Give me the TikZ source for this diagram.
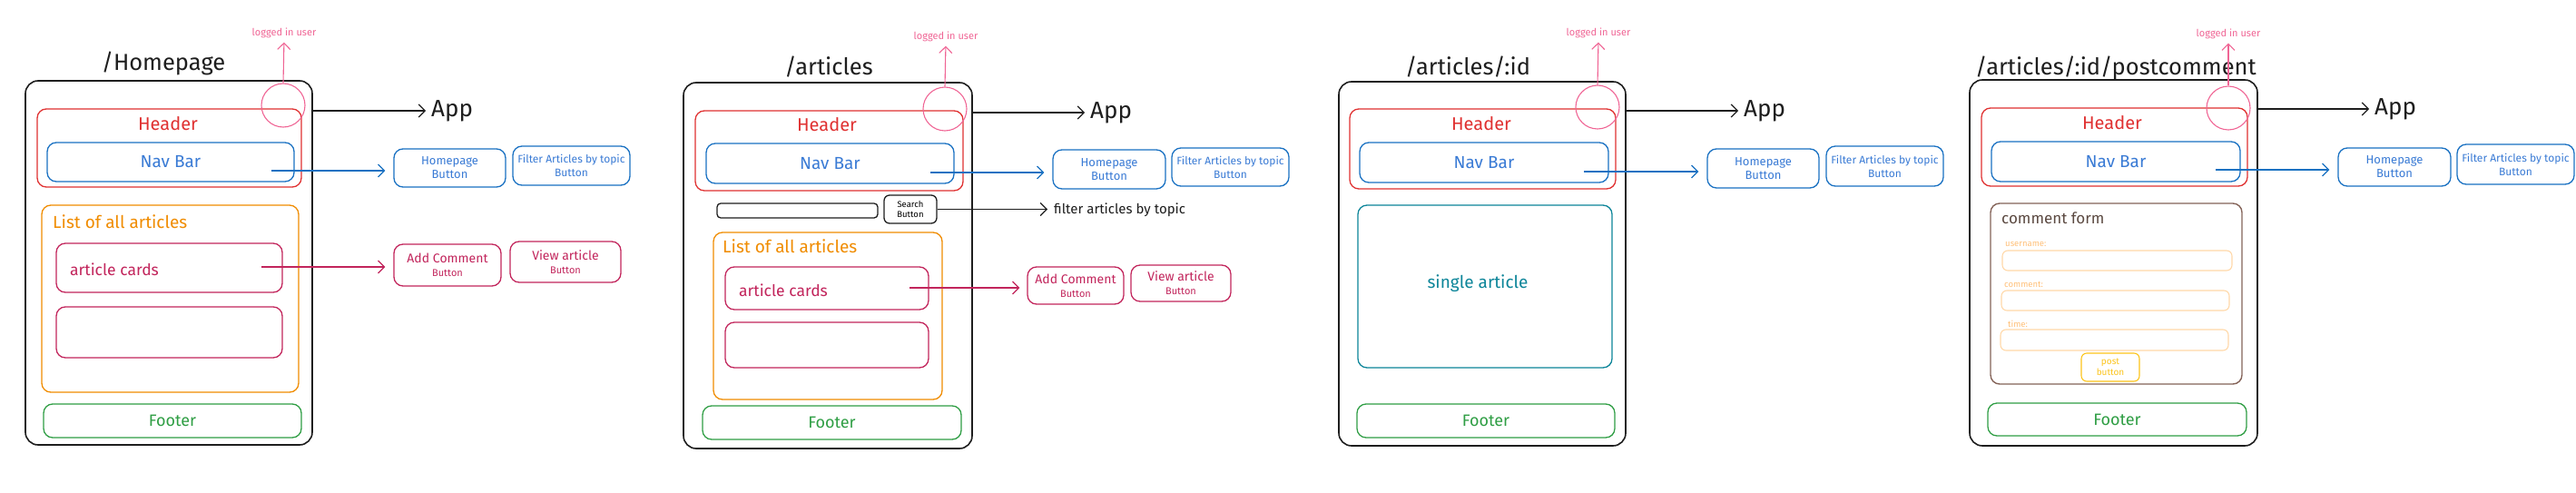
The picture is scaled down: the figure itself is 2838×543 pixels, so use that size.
\documentclass[tikz,border=0pt]{standalone}
\usepackage{fontspec}
\setmainfont{Fira Sans}
\usetikzlibrary{arrows.meta,calc}
\definecolor{ink}{HTML}{1E1E1E}
\definecolor{cred}{HTML}{E03131}
\definecolor{cblue}{HTML}{1971C2}
\definecolor{cbluet}{HTML}{3A7BD5}
\definecolor{corange}{HTML}{F08C00}
\definecolor{cgreen}{HTML}{2F9E44}
\definecolor{ccrim}{HTML}{C2255C}
\definecolor{cpink}{HTML}{F06595}
\definecolor{cteal}{HTML}{0C8599}
\definecolor{cbrown}{HTML}{846358}
\definecolor{cbrownt}{HTML}{5C4A42}
\definecolor{cfield}{HTML}{FFD8A8}
\definecolor{cfieldt}{HTML}{FFC078}
\definecolor{cyell}{HTML}{FCC419}
\newcommand\fsz[1]{\fontsize{#1}{\fpeval{1.2*#1}}\selectfont}
\tikzset{
  bx/.style={draw, rounded corners=10pt, line width=1.3pt, inner sep=0pt},
  outerbx/.style={bx, draw=ink, line width=1.6pt, rounded corners=14pt},
  hdrbx/.style={bx, draw=cred},
  navbx/.style={bx, draw=cblue, text=cbluet, font=\fsz{19}},
  listbx/.style={bx, draw=corange},
  cardbx/.style={bx, draw=ccrim},
  footbx/.style={bx, draw=cgreen, text=cgreen, font=\fsz{18}},
  tealbx/.style={bx, draw=cteal},
  formbx/.style={bx, draw=cbrown, line width=1.4pt},
  fieldbx/.style={bx, draw=cfield, line width=1.1pt, rounded corners=6pt},
  postbtn/.style={bx, draw=cyell, text=cyell, line width=1.1pt, rounded corners=6pt, align=center, font=\fontsize{10}{12}\selectfont},
  inbx/.style={bx, draw=ink, rounded corners=4pt},
  srchbtn/.style={bx, draw=ink, rounded corners=6pt, align=center, font=\fontsize{9.5}{11.5}\selectfont},
  bluebtn/.style={bx, draw=cblue, text=cbluet, align=center, font=\fontsize{13}{15}\selectfont},
  filtbtn/.style={bx, draw=cblue, text=cbluet, align=center, font=\fontsize{12}{15}\selectfont},
  crimbtn/.style={bx, draw=ccrim, text=ccrim, align=center, font=\fontsize{14}{15}\selectfont},
  circ/.style={draw=cpink, circle, line width=1.1pt, minimum size=48pt, inner sep=0pt},
  titletxt/.style={text=ink, font=\fsz{25.5}, inner sep=1pt},
  hdrtxt/.style={text=cred, font=\fsz{20}, inner sep=1pt},
  listtxt/.style={text=corange, font=\fsz{19}, inner sep=1pt, anchor=west},
  cardtxt/.style={text=ccrim, font=\fsz{17.5}, inner sep=1pt, anchor=west},
  apptxt/.style={text=ink, font=\fsz{26}, inner sep=1pt, anchor=west},
  lgtxt/.style={text=cpink, font=\fsz{11}, inner sep=1pt},
  filttxt/.style={text=ink, font=\fsz{15}, inner sep=1pt, anchor=west},
  singletxt/.style={text=cteal, font=\fsz{19}, inner sep=1pt},
  formtxt/.style={text=cbrownt, font=\fsz{17}, inner sep=1pt, anchor=west},
  fieldlbl/.style={text=cfieldt, font=\fsz{9.5}, inner sep=1pt, anchor=west},
  arr/.style={-{Straight Barb[length=7pt,width=14pt]}, line width=1.2pt},
  pinkarr/.style={arr, draw=cpink, line width=1.1pt, shorten >=4pt},
}
\newcommand\btnlines[2]{#1\\{\fontsize{11}{12}\selectfont #2}}
\begin{document}
\begin{tikzpicture}[x=1pt,y=-1pt]
\useasboundingbox (0,0) rectangle (2838,543);
\fill[white] (0,0) rectangle (2838,543);

% ================= Panel 1: /Homepage =================
\node[outerbx, minimum width=316pt, minimum height=401pt] (o1) at (186,289.5) {};
\node[titletxt] (t1) at (180,70) {/Homepage};
\node[hdrbx, minimum width=291pt, minimum height=86pt] (h1) at (186.5,163) {};
\node[hdrtxt] (ht1) at (185,136) {Header};
\node[navbx, minimum width=272pt, minimum height=43pt] (n1) at (188,178.5) {Nav Bar};
\node[circ] (c1) at (312,116) {};
\node[lgtxt] (l1) at (313,36) {logged in user};
\draw[pinkarr] (c1.north) -- (l1.south);
\node[apptxt] (a1) at (474,122) {App};
\draw[arr, draw=ink, shorten >=5pt] (a1.west -| o1.east) -- (a1.west);
\node[bluebtn, minimum width=123pt, minimum height=42pt] (hb1) at (495.5,185) {Homepage\\Button};
\node[filtbtn, minimum width=129pt, minimum height=43pt] (fb1) at (629.5,182.5) {Filter Articles by topic\\Button};
\coordinate (ns1) at (299,188);
\draw[arr, draw=cblue, shorten >=9pt] (ns1) -- (ns1 -| hb1.west);
\node[listbx, minimum width=283pt, minimum height=206pt] (L1) at (187.5,329) {};
\node[listtxt] (Lt1) at (57,244) {List of all articles};
\node[cardbx, minimum width=249pt, minimum height=54pt] (ac1) at (186.5,295) {};
\node[cardtxt] (act1) at (76,297) {article cards};
\node[cardbx, minimum width=249pt, minimum height=56pt] (ec1) at (186.5,366) {};
\node[crimbtn, minimum width=118pt, minimum height=46pt] (ad1) at (493,292) {\btnlines{Add Comment}{Button}};
\node[crimbtn, minimum width=122pt, minimum height=45pt] (va1) at (623,288.5) {\btnlines{View article}{Button}};
\coordinate (cs1) at (288,294);
\draw[arr, draw=ccrim, shorten >=9pt] (cs1) -- (cs1 -| ad1.west);
\node[footbx, minimum width=284pt, minimum height=37pt] (f1) at (190,463.5) {Footer};

% ================= Panel 2: /articles =================
\node[outerbx, minimum width=318pt, minimum height=403pt] (o2) at (912,292.5) {};
\node[titletxt] (t2) at (913,74) {/articles};
\node[hdrbx, minimum width=295pt, minimum height=88pt] (h2) at (913.5,166) {};
\node[hdrtxt] (ht2) at (911,137) {Header};
\node[navbx, minimum width=273pt, minimum height=44pt] (n2) at (914.5,180) {Nav Bar};
\node[circ] (c2) at (1041,120) {};
\node[lgtxt] (l2) at (1042,40) {logged in user};
\draw[pinkarr] (c2.north) -- (l2.south);
\node[apptxt] (a2) at (1200,124) {App};
\draw[arr, draw=ink, shorten >=5pt] (a2.west -| o2.east) -- (a2.west);
\node[bluebtn, minimum width=124pt, minimum height=43pt] (hb2) at (1222,186.5) {Homepage\\Button};
\node[filtbtn, minimum width=129pt, minimum height=42pt] (fb2) at (1355.5,184) {Filter Articles by topic\\Button};
\coordinate (ns2) at (1025,190);
\draw[arr, draw=cblue, shorten >=9pt] (ns2) -- (ns2 -| hb2.west);
\node[inbx, minimum width=177pt, minimum height=16pt] (si2) at (878.5,232) {};
\node[srchbtn, minimum width=58pt, minimum height=31pt] (sb2) at (1003,230.5) {Search\\Button};
\node[filttxt] (ft2) at (1160,231) {filter articles by topic};
\draw[arr, draw=ink, shorten >=6pt] (sb2.east) -- (sb2.east -| ft2.west);
\node[listbx, minimum width=252pt, minimum height=184pt] (L2) at (912,348) {};
\node[listtxt] (Lt2) at (795,271) {List of all articles};
\node[cardbx, minimum width=224pt, minimum height=47pt] (ac2) at (911,317.5) {};
\node[cardtxt] (act2) at (813,320) {article cards};
\node[cardbx, minimum width=224pt, minimum height=50pt] (ec2) at (911,380) {};
\node[crimbtn, minimum width=106pt, minimum height=41pt] (ad2) at (1185,314.5) {\btnlines{Add Comment}{Button}};
\node[crimbtn, minimum width=110pt, minimum height=40pt] (va2) at (1301,312) {\btnlines{View article}{Button}};
\coordinate (cs2) at (1002,317);
\draw[arr, draw=ccrim, shorten >=8pt] (cs2) -- (cs2 -| ad2.west);
\node[footbx, minimum width=285pt, minimum height=37pt] (f2) at (916.5,465.5) {Footer};

% ================= Panel 3: /articles/:id =================
\node[outerbx, minimum width=316pt, minimum height=401pt] (o3) at (1633,290.5) {};
\node[titletxt] (t3) at (1617,74) {/articles/:id};
\node[hdrbx, minimum width=293pt, minimum height=88pt] (h3) at (1633.5,164) {};
\node[hdrtxt] (ht3) at (1632,136) {Header};
\node[navbx, minimum width=274pt, minimum height=44pt] (n3) at (1635,179) {Nav Bar};
\node[circ] (c3) at (1760,118) {};
\node[lgtxt] (l3) at (1761,36) {logged in user};
\draw[pinkarr] (c3.north) -- (l3.south);
\node[apptxt] (a3) at (1920,122) {App};
\draw[arr, draw=ink, shorten >=5pt] (a3.west -| o3.east) -- (a3.west);
\node[bluebtn, minimum width=123pt, minimum height=43pt] (hb3) at (1942.5,185.5) {Homepage\\Button};
\node[filtbtn, minimum width=129pt, minimum height=44pt] (fb3) at (2076.5,183) {Filter Articles by topic\\Button};
\coordinate (ns3) at (1745,189);
\draw[arr, draw=cblue, shorten >=9pt] (ns3) -- (ns3 -| hb3.west);
\node[tealbx, minimum width=280pt, minimum height=179pt] (sa3) at (1636,315.5) {};
\node[singletxt] (sat3) at (1628,312) {single article};
\node[footbx, minimum width=284pt, minimum height=37pt] (f3) at (1637,463.5) {Footer};

% ================= Panel 4: /articles/:id/postcomment =================
\node[outerbx, minimum width=317pt, minimum height=403pt] (o4) at (2328.5,289.5) {};
\node[titletxt] (t4) at (2331,75) {/articles/:id/postcomment};
\node[hdrbx, minimum width=293pt, minimum height=86pt] (h4) at (2329.5,162) {};
\node[hdrtxt] (ht4) at (2327,135) {Header};
\node[navbx, minimum width=274pt, minimum height=44pt] (n4) at (2331,178) {Nav Bar};
\node[circ] (c4) at (2455,119) {};
\node[lgtxt] (l4) at (2455,37) {logged in user};
\draw[pinkarr] (c4.north) -- (l4.south);
\node[apptxt] (a4) at (2615,120) {App};
\draw[arr, draw=ink, shorten >=5pt] (a4.west -| o4.east) -- (a4.west);
\node[bluebtn, minimum width=124pt, minimum height=42pt] (hb4) at (2638,184) {Homepage\\Button};
\node[filtbtn, minimum width=129pt, minimum height=44pt] (fb4) at (2771.5,181) {Filter Articles by topic\\Button};
\coordinate (ns4) at (2441,187);
\draw[arr, draw=cblue, shorten >=9pt] (ns4) -- (ns4 -| hb4.west);
\node[formbx, minimum width=277pt, minimum height=199pt] (fm4) at (2331.5,323.5) {};
\node[formtxt] (fmt4) at (2204,240) {comment form};
\node[fieldlbl] (ul4) at (2208,269) {username:};
\node[fieldbx, minimum width=253pt, minimum height=22pt] (uf4) at (2332.5,287) {};
\node[fieldlbl] (cl4) at (2207,313) {comment:};
\node[fieldbx, minimum width=251pt, minimum height=22pt] (cf4) at (2330.5,331) {};
\node[fieldlbl] (tl4) at (2211,357) {time:};
\node[fieldbx, minimum width=251pt, minimum height=23pt] (tf4) at (2329.5,374.5) {};
\node[postbtn, minimum width=64pt, minimum height=31pt] (pb4) at (2325,404.5) {post\\button};
\node[footbx, minimum width=285pt, minimum height=36pt] (f4) at (2332.5,462) {Footer};
\end{tikzpicture}
\end{document}
